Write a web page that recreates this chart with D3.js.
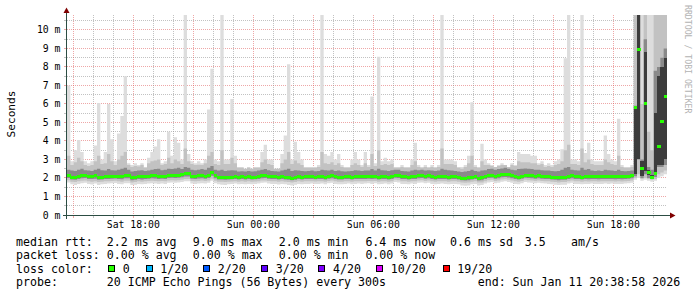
<!DOCTYPE html>
<html>
<head>
<meta charset="utf-8">
<script src="https://cdn.jsdelivr.net/npm/d3@7"></script>
<style>
  html, body { margin: 0; padding: 0; background: #fff; }
  svg { display: block; font-family: "DejaVu Sans Mono", monospace; }
</style>
</head>
<body>
<svg id="chart" width="697" height="297"></svg>
<script>
// 30 hours of smokeping data, one value per 10 minutes (ms)
const startTime = Date.UTC(2026, 0, 10, 14, 41);
const stepMinutes = 10;

// median rtt (green line)
const rttMed = [
  2.16,2.02,2.03,2.09,2.15,2.16,2.07,2.08,2.11,2.02,2.05,2.07,2.07,2.09,2.10,2.07,2.06,2.12,
  2.12,2.00,2.01,2.07,2.06,2.07,2.10,2.12,2.11,2.09,2.10,2.09,2.14,2.16,2.15,2.16,2.18,2.25,
  2.25,2.10,2.09,2.11,2.12,2.10,2.15,2.30,2.12,2.05,2.04,2.02,2.04,2.05,2.06,2.05,2.06,2.05,
  2.06,2.04,2.05,2.07,2.12,2.13,2.10,2.06,2.07,2.05,2.06,2.04,2.01,1.99,2.03,2.06,2.05,2.07,
  2.06,2.07,2.05,2.06,2.07,2.05,2.10,2.12,2.06,2.05,2.04,2.06,2.07,2.05,2.06,2.07,2.06,2.07,
  2.08,2.06,2.10,2.05,2.06,2.07,2.05,2.08,2.16,2.14,2.07,2.06,2.05,2.08,2.07,2.12,2.13,2.10,
  2.12,2.07,2.05,2.06,2.07,2.06,2.05,2.07,2.06,2.04,1.99,1.98,2.00,2.05,2.06,1.99,2.00,2.08,
  2.14,2.16,2.10,2.12,2.18,2.19,2.17,2.12,2.07,2.05,2.10,2.16,2.15,2.12,2.10,2.11,2.09,2.08,
  2.07,2.04,2.02,2.01,2.03,2.02,2.08,2.12,2.06,2.07,2.05,2.07,2.06,2.08,2.07,2.06,2.07,2.08,
  2.07,2.08,2.06,2.07,2.06,2.08,2.10,2.12,5.82,8.97,2.50,6.05,2.30,2.05,2.25,3.70,5.05,6.40
];

// slowest ping (top of light smoke)
const rttMax = [
  7.0,2.9,3.5,4.05,3.4,2.9,2.8,2.9,3.75,6.05,3.0,3.4,6.0,4.1,2.9,4.4,5.35,7.5,
  2.8,2.7,2.8,2.7,2.8,2.6,3.1,3.4,3.7,4.1,2.8,2.9,4.5,3.2,4.2,3.9,3.0,10.9,
  3.3,2.9,2.8,2.9,2.8,3.0,5.7,7.9,3.0,2.9,10.9,3.0,3.0,6.27,3.2,2.6,2.6,2.5,
  2.6,2.5,2.6,2.6,3.4,3.8,3.0,3.0,2.5,2.5,3.3,4.3,8.15,3.0,3.96,3.4,3.0,2.6,
  2.6,2.6,2.6,2.7,10.9,3.3,3.2,3.4,3.0,3.3,2.7,2.6,2.6,3.0,3.4,3.0,2.7,3.4,
  2.7,6.4,2.8,8.56,2.9,3.1,2.9,3.0,2.6,2.6,2.7,2.6,2.6,3.0,3.9,2.7,2.6,2.7,
  2.6,2.7,2.6,2.7,10.9,3.0,3.0,3.0,2.9,2.6,2.6,2.7,3.2,6.1,2.7,2.6,3.85,3.0,
  2.8,2.7,2.6,2.7,2.8,2.7,2.6,2.8,2.7,3.4,3.3,3.3,3.3,3.2,3.2,2.8,2.9,2.7,
  2.8,2.7,2.9,3.0,3.55,8.47,10.9,3.0,3.0,2.9,10.9,3.35,3.9,3.0,2.9,2.9,2.9,4.3,
  3.3,3.0,2.9,5.2,2.7,2.6,2.6,2.7,10.9,10.9,10.9,10.9,10.9,10.9,10.9,10.9,10.9,10.9
];

// top of medium smoke
const rttUpper = [
  3.20,2.70,2.85,3.10,2.90,2.70,2.65,2.70,2.90,3.20,2.75,2.80,3.30,2.90,2.70,3.00,3.20,3.40,
  2.70,2.60,2.65,2.62,2.70,2.55,2.80,2.90,2.95,3.00,2.70,2.75,3.10,2.80,3.00,2.90,2.75,3.60,
  2.90,2.75,2.70,2.72,2.70,2.80,3.20,3.40,2.75,2.70,3.50,2.75,2.75,3.10,2.80,2.55,2.55,2.50,
  2.55,2.50,2.55,2.55,2.85,3.00,2.75,2.70,2.50,2.50,2.80,3.00,3.40,2.75,2.95,2.80,2.70,2.55,
  2.55,2.55,2.55,2.60,3.40,2.80,2.75,2.85,2.70,2.80,2.60,2.55,2.55,2.70,2.80,2.70,2.60,2.80,
  2.60,3.30,2.65,3.50,2.70,2.75,2.70,2.75,2.55,2.55,2.60,2.55,2.55,2.70,2.90,2.60,2.55,2.60,
  2.55,2.60,2.55,2.60,3.60,2.75,2.75,2.75,2.70,2.55,2.50,2.60,2.80,3.20,2.60,2.55,2.90,2.70,
  2.70,2.65,2.60,2.65,2.70,2.70,2.60,2.70,2.65,2.90,2.85,2.85,2.85,2.80,2.80,2.70,2.75,2.60,
  2.65,2.60,2.70,2.75,2.90,3.50,3.80,2.75,2.75,2.70,3.60,2.85,3.00,2.75,2.70,2.70,2.70,3.00,
  2.85,2.75,2.70,3.20,2.60,2.55,2.55,2.60,10.9,10.9,6.00,10.9,4.50,3.50,10.9,10.9,10.9,10.9
];

// top of dark smoke
const rttHigh = [
  2.45,2.40,2.38,2.45,2.50,2.42,2.40,2.38,2.45,2.50,2.42,2.40,2.48,2.42,2.40,2.45,2.50,2.55,
  2.45,2.35,2.38,2.40,2.42,2.38,2.40,2.45,2.48,2.50,2.42,2.45,2.50,2.48,2.52,2.55,2.48,2.60,
  2.55,2.45,2.42,2.45,2.48,2.45,2.55,2.65,2.45,2.40,2.45,2.38,2.40,2.42,2.40,2.35,2.36,2.35,
  2.38,2.35,2.36,2.40,2.45,2.48,2.42,2.38,2.36,2.35,2.40,2.45,2.50,2.38,2.42,2.40,2.38,2.36,
  2.38,2.40,2.36,2.38,2.45,2.42,2.40,2.45,2.38,2.40,2.36,2.35,2.36,2.38,2.42,2.40,2.38,2.40,
  2.40,2.48,2.40,2.50,2.42,2.40,2.38,2.42,2.45,2.45,2.38,2.36,2.35,2.40,2.45,2.42,2.45,2.40,
  2.42,2.40,2.38,2.40,2.50,2.45,2.42,2.40,2.38,2.35,2.32,2.35,2.38,2.45,2.38,2.35,2.40,2.42,
  2.48,2.50,2.45,2.48,2.52,2.55,2.50,2.45,2.42,2.48,2.50,2.52,2.50,2.48,2.45,2.45,2.42,2.40,
  2.40,2.38,2.36,2.38,2.45,2.55,2.60,2.45,2.42,2.40,2.55,2.45,2.48,2.40,2.38,2.40,2.38,2.45,
  2.42,2.40,2.38,2.45,2.38,2.36,2.38,2.40,5.90,10.9,3.00,9.50,2.60,2.45,7.80,8.00,8.50,9.00
];

// bottom of dark smoke
const rttLow = [
  2.00,1.92,1.90,1.95,1.98,2.00,1.95,1.94,1.96,1.90,1.92,1.94,1.95,1.96,1.97,1.94,1.93,1.98,
  1.98,1.88,1.90,1.94,1.92,1.94,1.96,1.98,1.97,1.95,1.96,1.95,2.00,2.02,2.00,2.02,2.04,2.08,
  2.08,1.96,1.95,1.97,1.98,1.96,2.00,2.12,1.98,1.92,1.92,1.90,1.92,1.93,1.94,1.92,1.94,1.92,
  1.94,1.92,1.93,1.95,1.98,2.00,1.96,1.94,1.94,1.92,1.94,1.92,1.90,1.88,1.90,1.94,1.92,1.94,
  1.94,1.95,1.93,1.94,1.95,1.92,1.96,1.98,1.94,1.92,1.92,1.94,1.95,1.92,1.94,1.95,1.94,1.95,
  1.96,1.94,1.96,1.92,1.94,1.95,1.92,1.95,2.02,2.00,1.94,1.94,1.92,1.95,1.94,1.98,2.00,1.96,
  1.98,1.94,1.92,1.94,1.95,1.94,1.92,1.94,1.94,1.92,1.88,1.86,1.88,1.92,1.94,1.87,1.88,1.95,
  2.00,2.02,1.96,1.98,2.04,2.05,2.03,1.98,1.94,1.92,1.96,2.02,2.00,1.98,1.96,1.98,1.96,1.95,
  1.94,1.92,1.90,1.88,1.90,1.90,1.95,1.98,1.94,1.94,1.92,1.94,1.93,1.95,1.94,1.93,1.94,1.95,
  1.94,1.95,1.93,1.94,1.93,1.95,1.96,1.98,2.10,3.00,2.00,2.20,2.00,1.95,2.05,2.60,2.60,2.70
];

// bottom of medium smoke
const rttLower = [
  1.88,1.80,1.78,1.82,1.85,1.86,1.82,1.80,1.83,1.78,1.80,1.82,1.83,1.84,1.85,1.82,1.80,1.85,
  1.85,1.76,1.78,1.82,1.80,1.82,1.84,1.85,1.84,1.82,1.84,1.83,1.86,1.88,1.87,1.88,1.90,1.94,
  1.94,1.84,1.82,1.84,1.86,1.84,1.87,1.96,1.85,1.80,1.80,1.78,1.80,1.81,1.82,1.80,1.82,1.80,
  1.82,1.80,1.81,1.83,1.86,1.87,1.84,1.82,1.82,1.80,1.82,1.80,1.78,1.76,1.78,1.82,1.80,1.82,
  1.82,1.83,1.81,1.82,1.83,1.80,1.84,1.86,1.82,1.80,1.80,1.82,1.83,1.80,1.82,1.83,1.82,1.83,
  1.84,1.82,1.84,1.80,1.82,1.83,1.80,1.83,1.90,1.88,1.82,1.82,1.80,1.83,1.82,1.86,1.88,1.84,
  1.86,1.82,1.80,1.82,1.83,1.82,1.80,1.82,1.82,1.80,1.76,1.74,1.76,1.80,1.82,1.75,1.76,1.83,
  1.88,1.90,1.84,1.86,1.92,1.93,1.91,1.86,1.82,1.80,1.84,1.90,1.88,1.86,1.84,1.86,1.84,1.83,
  1.82,1.80,1.78,1.76,1.78,1.78,1.83,1.86,1.82,1.82,1.80,1.82,1.81,1.83,1.82,1.81,1.82,1.83,
  1.82,1.83,1.81,1.82,1.81,1.83,1.84,1.86,2.00,2.20,1.95,2.00,1.95,1.90,1.95,2.20,2.30,2.40
];

// fastest ping (bottom of light smoke)
const rttMin = [
  1.75,1.66,1.62,1.68,1.72,1.74,1.68,1.65,1.70,1.62,1.66,1.68,1.70,1.72,1.73,1.68,1.66,1.72,
  1.72,1.62,1.64,1.68,1.66,1.68,1.70,1.72,1.70,1.68,1.70,1.68,1.74,1.76,1.74,1.76,1.78,1.82,
  1.82,1.70,1.68,1.70,1.72,1.70,1.74,1.85,1.72,1.66,1.64,1.62,1.66,1.68,1.70,1.66,1.68,1.66,
  1.68,1.66,1.67,1.70,1.74,1.75,1.70,1.68,1.68,1.65,1.68,1.66,1.62,1.60,1.64,1.68,1.66,1.68,
  1.68,1.70,1.67,1.68,1.70,1.66,1.72,1.74,1.68,1.66,1.66,1.68,1.70,1.66,1.68,1.70,1.68,1.70,
  1.72,1.68,1.72,1.66,1.68,1.70,1.66,1.70,1.78,1.76,1.68,1.68,1.66,1.70,1.68,1.74,1.76,1.72,
  1.74,1.68,1.66,1.68,1.70,1.68,1.66,1.68,1.68,1.66,1.60,1.58,1.60,1.66,1.68,1.60,1.62,1.70,
  1.76,1.78,1.72,1.74,1.80,1.82,1.78,1.74,1.68,1.66,1.72,1.78,1.76,1.74,1.72,1.74,1.72,1.70,
  1.68,1.66,1.64,1.62,1.64,1.64,1.70,1.74,1.68,1.68,1.66,1.68,1.67,1.70,1.68,1.67,1.68,1.70,
  1.68,1.70,1.67,1.68,1.67,1.70,1.72,1.74,1.90,2.00,1.85,1.90,1.85,1.80,1.85,2.00,2.10,2.20
];

// densest smoke during the burst at the end (steps 170..179)
const burstStart = 170;
const burstCoreLo = [2.20, 3.00, 2.10, 2.40, 2.15, 2.05, 2.30, 2.70, 2.70, 3.00];
const burstCoreHi = [5.85, 10.9, 2.90, 8.80, 2.45, 2.15, 5.50, 7.50, 8.00, 8.50];

const yTickValues = [0, 1, 2, 3, 4, 5, 6, 7, 8, 9, 10];
const rttStats = ["2.2 ms avg", "9.0 ms max", "2.0 ms min", "6.4 ms now", "0.6 ms sd", "3.5", "am/s"];
const lossStats = ["0.00 % avg", "0.00 % max", "0.00 % min", "0.00 % now"];
const lossLabels = ["0", "1/20", "2/20", "3/20", "4/20", "10/20", "19/20"];
const lossColors = ["#26ff00", "#00b8ff", "#0059ff", "#5e00ff", "#7e00ff", "#dd00ff", "#ff0000"];
const probeText = "20 ICMP Echo Pings (56 Bytes) every 300s";
const endText = "end: Sun Jan 11 20:38:58 2026";

// Layout
const svg = d3.select("#chart");
const plot = {left: 67, right: 667, top: 15, bottom: 215};
const nSteps = rttMed.length;
const stepMs = stepMinutes * 60 * 1000;

const x = d3.scaleUtc()
  .domain([new Date(startTime), new Date(startTime + nSteps * stepMs)])
  .range([plot.left, plot.right]);
const y = d3.scaleLinear()
  .domain([0, 10.81])
  .range([plot.bottom, plot.top]);

const stepX = i => x(new Date(startTime + i * stepMs));
const crisp = v => Math.floor(v) + 0.5;

svg.append("rect").attr("width", 697).attr("height", 297).attr("fill", "#fff");

svg.append("clipPath").attr("id", "plotClip")
  .append("rect")
    .attr("x", plot.left).attr("y", plot.top)
    .attr("width", plot.right - plot.left).attr("height", plot.bottom - plot.top);

// Grid (behind the smoke)
const gridMinor = "rgba(143,143,143,0.55)";
const gridMajor = "rgba(222,80,80,0.5)";
const grid = svg.append("g").attr("shape-rendering", "crispEdges").attr("stroke-dasharray", "1,1");

const halfSteps = d3.range(1, 22).map(k => k / 2).filter(v => v <= 10.81);
grid.selectAll("line.h")
  .data(halfSteps)
  .join("line")
    .attr("x1", plot.left).attr("x2", plot.right)
    .attr("y1", d => crisp(y(d))).attr("y2", d => crisp(y(d)))
    .attr("stroke", d => Number.isInteger(d) ? gridMajor : gridMinor);

const hours = x.ticks(d3.utcHour.every(1));
grid.selectAll("line.v")
  .data(hours)
  .join("line")
    .attr("x1", d => crisp(x(d))).attr("x2", d => crisp(x(d)))
    .attr("y1", plot.top).attr("y2", plot.bottom)
    .attr("stroke", d => d.getUTCHours() % 3 === 0 ? gridMajor : gridMinor);

// Smoke bands
const smoke = svg.append("g").attr("clip-path", "url(#plotClip)");
const idx = d3.range(nSteps + 1);
const at = (arr, i) => arr[Math.min(i, nSteps - 1)];
const band = (lo, hi) => d3.area()
  .curve(d3.curveStepAfter)
  .x(i => stepX(i))
  .y0(i => y(at(lo, i)))
  .y1(i => y(at(hi, i)));

smoke.append("path").datum(idx).attr("d", band(rttMin, rttMax)).attr("fill", "#dddddd");
smoke.append("path").datum(idx).attr("d", band(rttLower, rttUpper)).attr("fill", "#c2c2c2");
smoke.append("path").datum(idx).attr("d", band(rttLow, rttHigh)).attr("fill", "#8a8a8a");

smoke.append("g").attr("shape-rendering", "crispEdges")
  .selectAll("rect")
  .data(burstCoreLo)
  .join("rect")
    .attr("x", (d, i) => stepX(burstStart + i))
    .attr("width", (d, i) => stepX(burstStart + i + 1) - stepX(burstStart + i))
    .attr("y", (d, i) => y(burstCoreHi[i]))
    .attr("height", (d, i) => y(d) - y(burstCoreHi[i]))
    .attr("fill", "#3c3c3c");

// Median, coloured by loss (all 0 loss here)
smoke.append("g").attr("shape-rendering", "crispEdges")
  .selectAll("rect")
  .data(rttMed)
  .join("rect")
    .attr("x", (d, i) => stepX(i))
    .attr("width", (d, i) => stepX(i + 1) - stepX(i) + 0.4)
    .attr("y", d => y(d) - 1.5)
    .attr("height", 3)
    .attr("fill", lossColors[0]);

// Axes
const axisColor = "#2c4d43";
const arrowColor = "#7f0000";
const axes = svg.append("g").attr("shape-rendering", "crispEdges");
axes.append("line")
  .attr("x1", plot.left - 4).attr("x2", plot.right + 4)
  .attr("y1", plot.bottom + 0.5).attr("y2", plot.bottom + 0.5)
  .attr("stroke", axisColor);
axes.append("line")
  .attr("x1", plot.left - 0.5).attr("x2", plot.left - 0.5)
  .attr("y1", plot.bottom + 4).attr("y2", plot.top - 4)
  .attr("stroke", axisColor);

// small ticks on the axes
axes.selectAll("line.ty")
  .data(halfSteps)
  .join("line")
    .attr("x1", plot.left - 3).attr("x2", plot.left - 1)
    .attr("y1", d => crisp(y(d))).attr("y2", d => crisp(y(d)))
    .attr("stroke", d => Number.isInteger(d) ? gridMajor : gridMinor);
axes.selectAll("line.tx")
  .data(hours)
  .join("line")
    .attr("x1", d => crisp(x(d))).attr("x2", d => crisp(x(d)))
    .attr("y1", plot.bottom + 1).attr("y2", plot.bottom + 3)
    .attr("stroke", d => d.getUTCHours() % 3 === 0 ? gridMajor : gridMinor);

svg.append("path")
  .attr("d", `M${plot.right + 3},${plot.bottom - 2.5}L${plot.right + 8.5},${plot.bottom + 0.5}L${plot.right + 3},${plot.bottom + 3.5}Z`)
  .attr("fill", arrowColor);
svg.append("path")
  .attr("d", `M${plot.left - 3.5},${plot.top - 2}L${plot.left - 0.5},${plot.top - 7.5}L${plot.left + 2.5},${plot.top - 2}Z`)
  .attr("fill", arrowColor);

// Y tick labels
svg.append("g")
  .selectAll("text")
  .data(yTickValues)
  .join("text")
    .attr("x", 60.5)
    .attr("y", d => y(d) + 3.5)
    .attr("text-anchor", "end")
    .style("font-size", "9.8px")
    .attr("fill", "#000")
    .text(d => `${d} m`);

// X tick labels every 6 hours
const fmt = d3.utcFormat("%a %H:%M");
svg.append("g")
  .selectAll("text")
  .data(x.ticks(d3.utcHour.every(6)))
  .join("text")
    .attr("x", d => x(d))
    .attr("y", 228)
    .attr("text-anchor", "middle")
    .style("font-size", "9.8px")
    .attr("fill", "#000")
    .text(d => fmt(d));

// Unit label
svg.append("text")
  .attr("transform", "translate(15.3, 114) rotate(-90)")
  .attr("text-anchor", "middle")
  .style("font-size", "11.2px")
  .text("Seconds");

// Watermark
svg.append("text")
  .attr("transform", "translate(684.5, 5) rotate(90)")
  .style("font-size", "8.2px")
  .attr("fill", "#b3b3b3")
  .text("RRDTOOL / TOBI OETIKER");

// Legend
const legend = svg.append("g").style("font-size", "11.6px").attr("fill", "#000");
const rowY = [245.5, 259, 272.8, 286.4];
const colX = [106.8, 192.8, 278.8, 365.4, 450.1, 524.7, 571.1];
const put = (tx, ty, s) => legend.append("text").attr("x", tx).attr("y", ty).text(s);

put(16, rowY[0], "median rtt:");
rttStats.forEach((s, i) => put(colX[i], rowY[0], s));
put(16, rowY[1], "packet loss:");
lossStats.forEach((s, i) => put(colX[i], rowY[1], s));
put(16, rowY[2], "loss color:");
const boxX = [108.5, 146, 203.5, 261.5, 318.8, 376.5, 443];
lossLabels.forEach((s, i) => {
  legend.append("rect")
    .attr("x", boxX[i]).attr("y", 265.5)
    .attr("width", 6).attr("height", 6)
    .attr("fill", lossColors[i])
    .attr("stroke", "#000")
    .attr("shape-rendering", "crispEdges");
  put(boxX[i] + 14.3, rowY[2], s);
});
put(16, rowY[3], "probe:");
put(colX[0], rowY[3], probeText);
put(477.7, rowY[3], endText);
</script>
</body>
</html>
